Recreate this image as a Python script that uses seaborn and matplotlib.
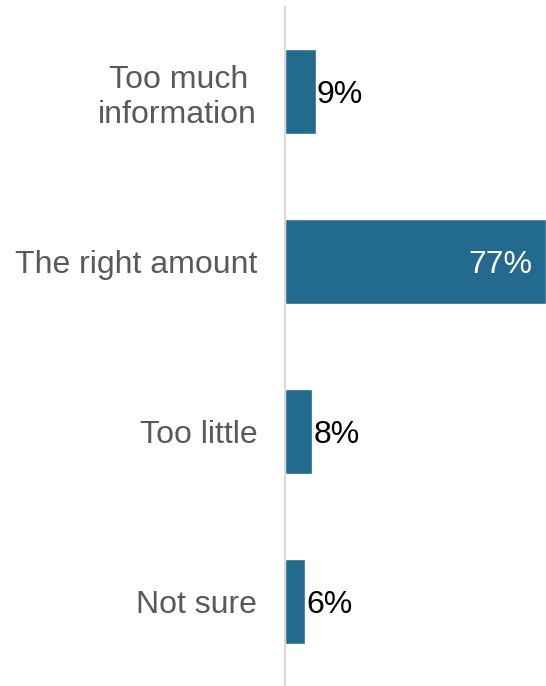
import matplotlib
matplotlib.use("Agg")
import matplotlib.pyplot as plt
import seaborn as sns
import pandas as pd

categories = ["Too much \ninformation", "The right amount", "Too little", "Not sure"]
values = [9, 77, 8, 6]
value_labels = ["9%", "77%", "8%", "6%"]

df = pd.DataFrame({"answer": categories, "pct": values})

sns.set_style("white")
plt.rcParams["font.family"] = ["Liberation Sans", "DejaVu Sans"]

fig = plt.figure(figsize=(5.46, 6.86), dpi=100)
ax = fig.add_axes([285 / 546, 0, 261 / 546, 679 / 686])

sns.barplot(data=df, y="answer", x="pct", orient="h", color="#236B8E",
            saturation=1, width=0.5, ax=ax)

ax.set_xlim(0, 77)
ax.set_ylim(3.5, -0.5)
ax.set_xlabel("")
ax.set_ylabel("")
ax.set_xticks([])
for s in ["top", "right", "bottom"]:
    ax.spines[s].set_visible(False)
ax.spines["left"].set_color("#d9d9d9")
ax.spines["left"].set_linewidth(1.5)
ax.spines["left"].set_zorder(5)
ax.tick_params(axis="y", length=0, pad=20, labelsize=23, labelcolor="#595959")

# value labels
for i, (v, lab) in enumerate(zip(values, value_labels)):
    if v > 50:
        ax.annotate(lab, (v, i), xytext=(-10, 0), textcoords="offset points",
                    ha="right", va="center_baseline", fontsize=23, color="white")
    else:
        ax.annotate(lab, (v, i), xytext=(1, 0), textcoords="offset points",
                    ha="left", va="center_baseline", fontsize=23, color="black")

fig.savefig("out.png", dpi=100)
